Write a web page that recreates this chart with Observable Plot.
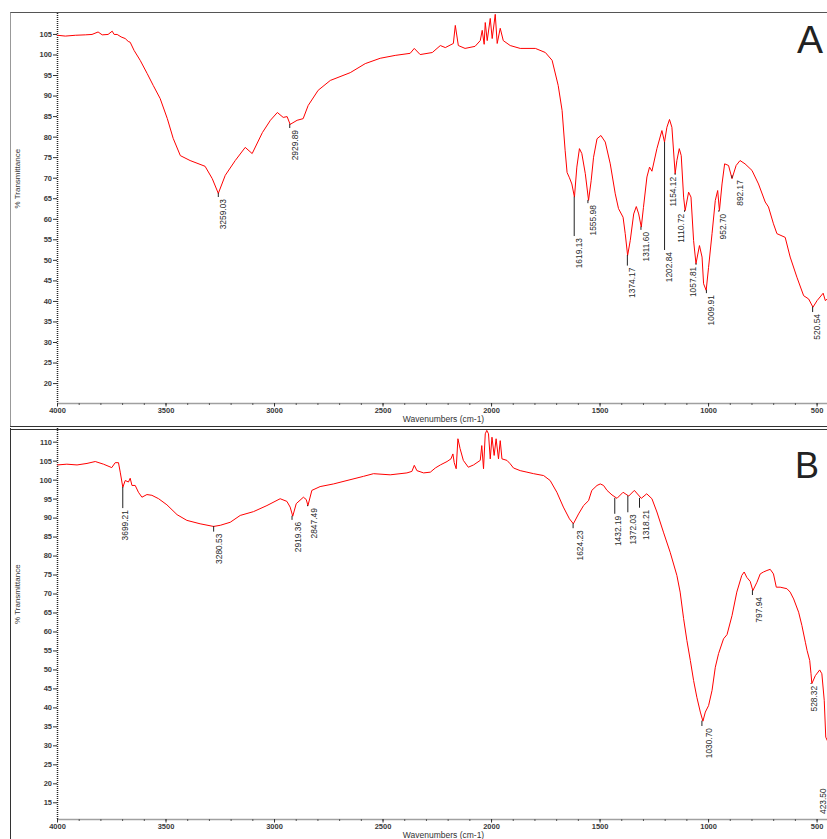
<!DOCTYPE html>
<html><head><meta charset="utf-8">
<script src="https://cdn.jsdelivr.net/npm/d3@7"></script>
<script src="https://cdn.jsdelivr.net/npm/@observablehq/plot@0.6"></script>
<style>
body{margin:0;background:#fff;}
#wrap{position:relative;width:827px;height:839px;overflow:hidden;background:#fff;font-family:"Liberation Sans",Arial,sans-serif;}
.panel{position:absolute;left:0;}
.frame{position:absolute;pointer-events:none;box-sizing:border-box;}
.letter{position:absolute;line-height:1;color:#222;font-family:"Liberation Sans",Arial,sans-serif;}
</style></head><body>
<div id="wrap">
 <div id="pA" class="panel" style="top:0"></div>
 <div id="pB" class="panel" style="top:425px"></div>
 <div class="frame" style="left:10px;top:12px;width:830px;height:414px;border-top:1.5px solid #555;border-left:1px solid #999;"></div>
 <div class="frame" style="left:10px;top:426px;width:830px;height:420px;border-top:4px double #333;border-left:1.5px solid #333;"></div>
 <div class="letter" style="left:797px;top:19.7px;font-size:39px;">A</div>
 <div class="letter" style="left:795px;top:447.5px;font-size:36px;">B</div>
</div>
<script>
// ---------- Spectrum A ----------
const wnA = [4000,3964,3918,3872,3841,3813,3794,3767,3748,3739,
3725,3707,3688,3674,3665,3647,3619,3587,3559,3527,
3494,3467,3434,3389,3320,3287,3259,3227,3181,3135,
3103,3056,3019,2987,2960,2942,2928,2896,2868,2845,
2799,2743,2651,2582,2513,2444,2375,2356,2329,2273,
2236,2213,2176,2167,2153,2122,2076,2052,2043,2034,
2029,2020,2006,1997,1983,1974,1960,1946,1914,1868,
1798,1752,1721,1693,1675,1661,1652,1641,1630,1618,
1607,1595,1584,1568,1553,1541,1530,1514,1496,1476,
1453,1430,1415,1394,1384,1373,1361,1345,1333,1322,
1310,1300,1284,1272,1261,1238,1215,1203,1192,1180,
1169,1154,1146,1135,1126,1115,1108,1092,1081,1069,
1058,1042,1030,1023,1011,1000,984,969,958,950,
938,926,908,892,873,855,832,800,770,739,
724,701,685,647,624,593,562,539,519,500,
472,462,453];
const tA = [104.8,104.6,104.8,104.9,105.0,105.6,104.9,105.0,105.8,105.0,
105.0,104.4,104.0,103.3,103.1,101.1,98.7,95.5,92.6,89.4,
84.5,79.7,75.5,74.3,72.9,69.9,66.3,70.7,74.3,77.5,
76.0,81.1,84.1,86.0,84.8,85.0,83.1,84.1,84.5,87.7,
91.4,93.8,95.7,97.9,99.2,99.9,100.4,101.6,100.1,100.6,
102.3,101.8,102.8,107.2,102.3,101.6,102.1,103.5,106.0,102.6,
107.9,103.5,108.9,104.0,109.9,102.8,106.5,103.5,102.3,101.6,
101.6,100.6,98.7,92.6,86.5,76.8,71.4,70.1,68.6,65.4,
72.7,77.2,76.0,71.1,64.6,69.4,75.1,79.6,80.4,78.8,
73.5,66.2,62.6,60.5,56.5,51.2,54.8,61.3,63.1,61.3,
58.1,62.9,70.3,72.7,71.7,77.2,81.6,78.8,82.4,84.3,
82.4,71.1,74.3,77.2,75.5,65.4,62.1,66.6,65.4,54.8,
49.2,53.6,50.8,44.3,42.7,48.3,56.5,64.6,67.0,62.1,
68.6,73.5,73.1,69.9,73.1,74.3,73.5,71.9,68.6,64.2,
63.0,58.9,56.5,55.6,50.8,45.9,41.4,40.6,38.6,40.2,
42.0,40.2,40.6];
const peakWnA = [3259.03,2929.89,1619.13,1555.98,1374.17,1311.60,1202.84,1154.12,1110.72,1057.81,1009.91,952.70,892.17,520.54];
const peakLabelA = ["3259.03","2929.89","1619.13","1555.98","1374.17","1311.60","1202.84","1154.12","1110.72","1057.81","1009.91","952.70","892.17","520.54"];
const peakTipA = [66.3,83.1,65.4,64.6,51.2,58.1,78.7,71.1,62.1,49.2,42.7,62.1,70.6,38.6];
const peakEndA = [65.3,82.1,55.8,63.8,48.6,57.3,52.4,70.7,61.7,48.8,41.9,61.7,69.9,37.3];
const peakShiftA = [5,5.5,5,5.5,5,5.3,4.7,-2,-3,-3,5,4.5,8,5];

// ---------- Spectrum B ----------
const wnB = [4000,3957,3910,3864,3826,3788,3750,3734,3719,3711,
3699,3688,3673,3665,3657,3642,3627,3611,3588,3565,
3534,3496,3449,3404,3343,3281,3250,3204,3158,3097,
3035,2974,2943,2928,2916,2900,2867,2854,2846,2828,
2790,2728,2666,2590,2544,2467,2390,2367,2356,2344,
2313,2282,2259,2236,2205,2187,2178,2172,2163,2155,
2145,2130,2107,2083,2052,2045,2037,2029,2022,2014,
2006,1998,1988,1979,1968,1960,1952,1929,1914,1899,
1868,1837,1806,1760,1730,1699,1669,1641,1623,1599,
1576,1553,1538,1514,1499,1484,1468,1445,1422,1394,
1368,1342,1310,1285,1261,1238,1208,1177,1146,1131,
1115,1100,1084,1069,1054,1038,1026,1015,1000,984,
969,954,931,915,892,870,847,836,824,808,
796,777,762,747,731,716,701,688,670,639,
624,608,585,570,554,546,534,528,524,508,
488,478,467,460,453];
const tB = [104.0,104.2,104.0,104.4,104.9,104.2,103.3,104.6,104.6,102.1,
98.1,99.9,99.5,100.5,98.6,98.6,96.8,95.5,96.2,96.0,
95.1,93.5,90.9,89.4,88.5,87.8,88.1,88.9,90.7,91.7,
93.3,95.1,94.4,92.9,90.5,93.8,95.5,94.9,93.3,97.3,
98.3,99.0,99.9,101.0,101.7,101.4,101.9,102.3,103.9,102.5,
101.9,102.1,103.2,104.0,104.9,105.6,106.9,104.6,103.0,110.9,
108.3,105.2,103.4,104.0,105.2,109.1,103.0,112.2,113.1,112.2,
105.6,111.3,106.5,110.9,105.6,110.4,105.6,105.2,104.3,103.2,
102.5,102.1,101.7,101.2,99.9,96.8,92.9,89.8,88.5,91.1,
93.3,94.6,97.3,98.6,99.0,98.6,97.3,96.1,95.2,96.8,
95.8,97.3,95.2,96.4,95.1,91.6,86.3,81.0,74.9,70.5,
63.5,57.8,52.5,47.2,42.8,38.9,36.5,38.9,40.6,44.6,
50.7,54.3,58.2,59.3,64.3,70.5,74.9,75.8,74.4,73.3,
70.9,73.1,75.3,75.8,76.2,76.5,75.3,71.8,71.8,71.4,
70.5,68.7,65.2,61.7,57.3,55.1,52.5,49.0,46.4,48.5,
50.0,49.0,42.0,32.3,31.4];
const peakWnB = [3699.21,3280.53,2919.36,2847.49,1624.23,1432.19,1372.03,1318.21,1030.70,797.94,528.32,423.50];
const peakLabelB = ["3699.21","3280.53","2919.36","2847.49","1624.23","1432.19","1372.03","1318.21","1030.70","797.94","528.32","423.50"];
const peakTipB = [98.1,87.8,90.5,93.3,88.5,95.2,95.8,95.2,36.5,70.9,46.4,19.2];
const peakEndB = [92.5,86.3,89.4,93.0,87.2,91.0,91.4,92.6,35.1,69.6,46.2,19.2];
const peakShiftB = [2.5,5.6,6,6.5,7,3.5,5,7,7.5,7,3.5,-10];

// ---------- Axes ----------
const xMajor = [4000,3500,3000,2500,2000,1500,1000,500];
const xMinor = [4000,3900,3800,3700,3600,3500,3400,3300,3200,3100,3000,2900,2800,2700,2600,2500,2400,2300,2200,2100,2000,1900,1800,1700,1600,1500,1400,1300,1200,1100,1000,900,800,700,600,500];
const yTicksA = [20,25,30,35,40,45,50,55,60,65,70,75,80,85,90,95,100,105];
const yTicksB = [15,20,25,30,35,40,45,50,55,60,65,70,75,80,85,90,95,100,105,110];
const xLabel = "Wavenumbers (cm-1)";
const yLabel = "% Transmittance";

function panel(el, {wn, t, pw, pl, ptip, pend, pshift, yDomain, yTicks, height, marginTop, marginBottom}) {
  const data = wn.map((w, i) => ({w, t: t[i]}));
  const peaks = pw.map((w, i) => ({w, label: pl[i], tip: ptip[i], end: pend[i], shift: pshift[i]}));
  const chart = Plot.plot({
    width: 827, height, marginLeft: 57, marginRight: 0, marginTop, marginBottom,
    style: {background: "transparent", fontFamily: "'Liberation Sans', Arial, sans-serif", fontSize: "7.5px", color: "#333", overflow: "hidden"},
    x: {domain: [4000, 452]},
    y: {domain: yDomain},
    marks: [
      Plot.ruleY([yDomain[0]], {stroke: "#a0a0a0", strokeWidth: 1.5}),
      Plot.axisX({ticks: xMinor, tickSize: 2, tickFormat: () => "", label: null, stroke: "#555"}),
      Plot.axisX({ticks: xMajor, tickSize: 3.5, tickPadding: 0.5, tickFormat: d => String(d), label: null, fontWeight: "bold", stroke: "#333", fill: "#3a3a3a"}),
      Plot.axisY({ticks: yTicks, tickSize: 4, tickPadding: 1.5, label: null, fontWeight: "bold", stroke: "#333", fill: "#3a3a3a"}),
      Plot.ruleX([4000], {stroke: "#222", strokeWidth: 1.5, strokeDasharray: "1,1"}),
      Plot.text([yLabel], {frameAnchor: "left", text: d => d, rotate: -90, dx: -40, fontSize: 8, fill: "#333"}),
      Plot.text([xLabel], {frameAnchor: "bottom", text: d => d, dx: 1, dy: 18.5, fontSize: 8.5, fill: "#333"}),
      Plot.line(data, {x: "w", y: "t", stroke: "#ff0000", strokeWidth: 1}),
      Plot.ruleX(peaks, {x: "w", y1: "tip", y2: "end", stroke: "#222", strokeWidth: 1}),
      ...peaks.map(p => Plot.text([p], {x: "w", y: "end", text: "label", rotate: -90, textAnchor: "end", dy: 1.5, dx: p.shift,
        fontFamily: "'Liberation Sans Narrow', 'Arial Narrow', 'Liberation Sans', sans-serif", fontSize: 8.4, fill: "#2a2a2a"}))
    ]
  });
  document.getElementById(el).appendChild(chart);
}

panel("pA", {wn: wnA, t: tA, pw: peakWnA, pl: peakLabelA, ptip: peakTipA, pend: peakEndA, pshift: peakShiftA,
  yDomain: [15.15, 110.1], yTicks: yTicksA, height: 425, marginTop: 13, marginBottom: 22});
panel("pB", {wn: wnB, t: tB, pw: peakWnB, pl: peakLabelB, ptip: peakTipB, pend: peakEndB, pshift: peakShiftB,
  yDomain: [10.6, 113.6], yTicks: yTicksB, height: 414, marginTop: 3, marginBottom: 20});
</script>
</body></html>
